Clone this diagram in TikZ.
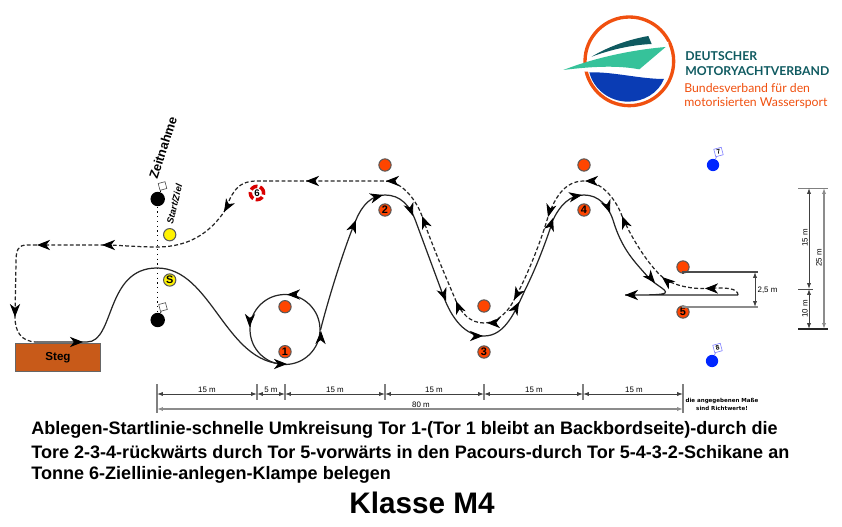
\documentclass[tikz,border=0pt]{standalone}
\usepackage{fontspec}
\setmainfont{Liberation Sans}
\newfontfamily\latofont{Lato}
\newfontfamily\notefont{DejaVu Sans}
\usetikzlibrary{arrows.meta}
\definecolor{buoyred}{HTML}{FF4500}
\definecolor{stegbrown}{HTML}{C85A19}
\definecolor{logoteal}{HTML}{0F5A60}
\definecolor{logogreen}{HTML}{36C29A}
\definecolor{logoblue}{HTML}{0A3CB4}
\definecolor{logoorange}{HTML}{F0500F}
\tikzset{
  buoy/.style={circle,draw=black!65,line width=.6pt,fill=buoyred,minimum size=7pt,inner sep=0pt,font=\fontsize{6.2}{6}\selectfont\bfseries},
  startbuoy/.style={buoy,fill=yellow},
  markbuoy/.style={circle,fill=black,minimum size=8.2pt,inner sep=0pt},
  bluebuoy/.style={circle,fill=blue!85!cyan,minimum size=7pt,inner sep=0pt},
  flagbox/.style={draw=black!70,fill=white,line width=.35pt,minimum size=4pt,inner sep=0pt,rotate=15},
  blueflag/.style={flagbox,draw=blue!50,minimum size=4.4pt,font=\fontsize{3.8}{3.8}\selectfont\bfseries},
  lifering/.style={circle,draw=red!85!black,fill=white,line width=2pt,minimum size=7.6pt,inner sep=0pt,dash pattern=on 4.2pt off 1.5pt,font=\fontsize{5.5}{5.5}\selectfont\bfseries},
  track/.style={line width=.7pt,black!85},
  backtrack/.style={track,dash pattern=on 2.2pt off 1.3pt},
  tiparrow/.style={-{Stealth[length=7.4pt,width=5.8pt,inset=2.2pt]},line width=.5pt},
  dim/.style={{Latex[length=3.4pt,width=2.4pt]}-{Latex[length=3.4pt,width=2.4pt]},line width=.5pt,black!75},
  dimthick/.style={dim,line width=.9pt,black!45},
  tickline/.style={line width=.6pt,black!50},
  dimlabel/.style={font=\fontsize{4.5}{5}\selectfont,inner sep=0pt},
  rulebody/.style={anchor=west,inner sep=0pt,font=\fontsize{10.27}{11}\selectfont\bfseries},
  logotitle/.style={anchor=west,inner sep=0pt,text=logoteal,font=\latofont\fontsize{6.95}{8}\selectfont\bfseries},
  logosub/.style={anchor=west,inner sep=0pt,text=logoorange,font=\latofont\fontsize{6.97}{8}\selectfont}
}
\begin{document}
\begin{tikzpicture}[x=0.02cm,y=-0.02cm]
\useasboundingbox (0,0) rectangle (842,527);
% logo
\begin{scope}[shift={(550,5)},x=0.00667cm,y=-0.00667cm]
\draw[logoorange,line width=1.9pt] (238,169) circle[radius=133];
\fill[white] (30,205) -- (355,110) -- (355,200) -- (30,200) -- cycle;
\fill[logoteal] (125,155) .. controls (180,122) and (240,103) .. (295,93) -- (305,117) .. controls (240,120) and (180,135) .. (125,155) -- cycle;
\fill[logogreen] (40,195) .. controls (130,160) and (240,135) .. (347,126) -- (268,193) .. controls (200,180) and (120,185) .. (40,195) -- cycle;
\fill[logoblue] (118,202) .. controls (190,200) and (270,222) .. (342,222) .. controls (325,265) and (280,290) .. (235,290) .. controls (175,290) and (130,250) .. (118,202) -- cycle;
\end{scope}
\node[logotitle] (logoa) at (685,56) {DEUTSCHER};
\node[logotitle] (logob) at (685,71) {MOTORYACHTVERBAND};
\node[logosub] (logoc) at (684,88) {Bundesverband für den};
\node[logosub] (logod) at (684,103) {motorisierten Wassersport};
% Steg
\node[draw=black!60,fill=stegbrown,line width=.6pt,minimum width=48.4pt,minimum height=16.2pt,inner sep=0pt,font=\fontsize{6.6}{7}\selectfont\bfseries] (steg) at (58,357.5) {Steg};
% start line
\node[markbuoy] (markA) at (157.7,199) {};
\node[markbuoy] (markB) at (157.7,320) {};
\node[flagbox] (flagA) at (162.5,186) {};
\node[flagbox] (flagB) at (163,307) {};
\draw[line width=.4pt] (markA) -- (flagA);
\draw[line width=.4pt] (markB) -- (flagB);
\draw[line width=.7pt,dotted] (markA) -- (markB);
\node[rotate=72,font=\fontsize{7.3}{8}\selectfont\bfseries,inner sep=0pt] (zeit) at (163,148) {Zeitnahme};
\node[rotate=76,font=\fontsize{5.3}{6}\selectfont\bfseries\itshape,inner sep=0pt] (startziel) at (174.5,204) {Start/Ziel};
% buoys
\node[startbuoy] (ziel) at (169.7,234.7) {};
\node[startbuoy] (start) at (169.7,280) {S};
\node[lifering] (tor6) at (257,193) {6};
\node[buoy] (tor1a) at (285,306.7) {};
\node[buoy] (tor1) at (285,351.7) {1};
\node[buoy] (tor2a) at (385,165) {};
\node[buoy] (tor2) at (385,210) {2};
\node[buoy] (tor3a) at (484,306) {};
\node[buoy] (tor3) at (484,352) {3};
\node[buoy] (tor4a) at (584,165) {};
\node[buoy] (tor4) at (584,210) {4};
\node[buoy] (tor5a) at (683,267) {};
\node[buoy] (tor5) at (683,312) {5};
\node[bluebuoy] (blue7) at (713,165) {};
\node[bluebuoy] (blue8) at (712,361) {};
\node[blueflag] (flag7) at (718.5,152) {7};
\node[blueflag] (flag8) at (717.5,348) {8};
\draw[line width=.4pt,blue!50] (blue7) -- (flag7);
\draw[line width=.4pt,blue!50] (blue8) -- (flag8);
% forward run
\draw[track] (37,342) -- (87,342) .. controls (115,342) and (105,268) .. (157,268) .. controls (212,268) and (225,364) .. (285,364);
\draw[track] (285,329.5) circle[radius=35];
\draw[track] (320.5,330) .. controls (328,300) and (345,245) .. (356,220) .. controls (362,205) and (372,195) .. (385,195) .. controls (400,195) and (410,205) .. (416,222) -- (443,295) .. controls (452,320) and (466,336) .. (484,336) .. controls (505,336) and (515,312) .. (525,290) .. controls (535,270) and (545,245) .. (553,220) .. controls (560,205) and (570,195) .. (584,195) .. controls (598,195) and (608,205) .. (613,220) .. controls (622,250) and (635,262) .. (648,277) .. controls (655,285) and (668,290) .. (665,293) .. controls (662,295) and (650,295) .. (625,295) -- (738,295);
% way back
\draw[backtrack] (738,295) .. controls (738,288) and (725,287) .. (705,288.5) .. controls (690,289) and (670,285) .. (660,275) .. controls (645,260) and (630,235) .. (622,216) .. controls (615,197) and (600,181) .. (584,181) .. controls (565,181) and (555,197) .. (548,217) .. controls (538,250) and (525,280) .. (514,300) .. controls (508,312) and (497,323) .. (484,323) .. controls (470,323) and (461,313) .. (456,301) .. controls (445,275) and (432,245) .. (422,216) .. controls (415,197) and (400,181) .. (385,181) -- (257,181) .. controls (235,181) and (232,195) .. (224,212) .. controls (210,232) and (190,247) .. (157,247) .. controls (135,247) and (120,245) .. (102,245) -- (27,245) .. controls (18,245) and (16,250) .. (16,262) -- (15,317) .. controls (15,330) and (20,342) .. (37,342);
% arrow tips on both runs, x/y/direction
\foreach \tipx/\tipy/\tipang in {83/342/0,287/364/0,321/331/-88,287/294.5/180,249.5/327/92,356/220/-68,383/195/-15,413/216/70,446/301/70,483/336/0,519/302/-62,553/218/-72,582/195/-10,610/213/70,655/283/50,625/295/180,
  705/288.5/180,662/277/-140,622/216/-112,585/181/180,548/217/105,514/300/118,487/323/180,456/301/-112,422/216/-112,386/181/180,306/181/180,224/212/120,102/245/180,37/245/180,15/317/90}
  \draw[tiparrow,shift={(\tipx,\tipy)}] (\tipang:-9) -- (0,0);
% gate 5 lines and 2,5 m
\coordinate (gateA) at (758,272);
\coordinate (gateB) at (758,307);
\coordinate (gateAs) at (755,272);
\coordinate (gateBs) at (755,307);
\draw[line width=.6pt,black!70] (tor5a) -- (tor5a |- gateA) -- (gateA);
\draw[line width=.8pt,black!45] (tor5) -- (tor5 |- gateB) -- (gateB);
\draw[dim] (gateAs) -- (gateBs);
\node[dimlabel] (l25) at (767.5,290) {2,5 m};
% lengths below
\foreach \tickname/\tickx/\tickend in {a/157/413,b/257/400,c/285/400,d/385/400,e/484/400,f/583/400,g/683/413}{
  \coordinate (top\tickname) at (\tickx,384);
  \coordinate (row\tickname) at (\tickx,394);
  \coordinate (wide\tickname) at (\tickx,409);
  \draw[tickline] (top\tickname) -- (\tickx,\tickend);
}
\foreach \from/\to/\midx/\dimtext in {a/b/207/15 m,b/c/271/5 m,c/d/335/15 m,d/e/434/15 m,e/f/534/15 m,f/g/634/15 m}{
  \draw[dim] (row\from) -- (row\to);
  \node[dimlabel] at (\midx,390) {\dimtext};
}
\draw[dimthick] (widea) -- (wideg);
\node[dimlabel] (l80) at (421,405) {80 m};
\node[align=center,inner sep=0pt,font=\notefont\fontsize{3.15}{4.9}\selectfont\bfseries] (note) at (722,404.5) {die angegebenen Maße\\sind Richtwerte!};
% lengths right
\coordinate (rA) at (809,188);
\coordinate (rB) at (809,289);
\coordinate (rC) at (809,329);
\coordinate (sA) at (824,188);
\coordinate (sC) at (824,329);
\draw[line width=.5pt,black!50] (798,188) -- (828,188);
\draw[line width=.5pt,black!70] (798,289) -- (813,289);
\draw[line width=.7pt,black!85] (798,329) -- (828,329);
\draw[dim] (rA) -- (rB);
\draw[dim] (rB) -- (rC);
\draw[dimthick] (sA) -- (sC);
\node[dimlabel,rotate=90] (l15) at (805,238) {15 m};
\node[dimlabel,rotate=90] (l10) at (805,309) {10 m};
\node[dimlabel,rotate=90] (l25m) at (819,258) {25 m};
% text
\node[rulebody] (lineA) at (31,430) {Ablegen-Startlinie-schnelle Umkreisung Tor 1-(Tor 1 bleibt an Backbordseite)-durch die};
\node[rulebody] (lineB) at (31,452.5) {Tore 2-3-4-rückwärts durch Tor 5-vorwärts in den Pacours-durch Tor 5-4-3-2-Schikane an};
\node[rulebody] (lineC) at (31,475) {Tonne 6-Ziellinie-anlegen-Klampe belegen};
\node[inner sep=0pt,font=\fontsize{16.9}{18}\selectfont\bfseries] (klasse) at (422,503) {Klasse M4};
\end{tikzpicture}
\end{document}
